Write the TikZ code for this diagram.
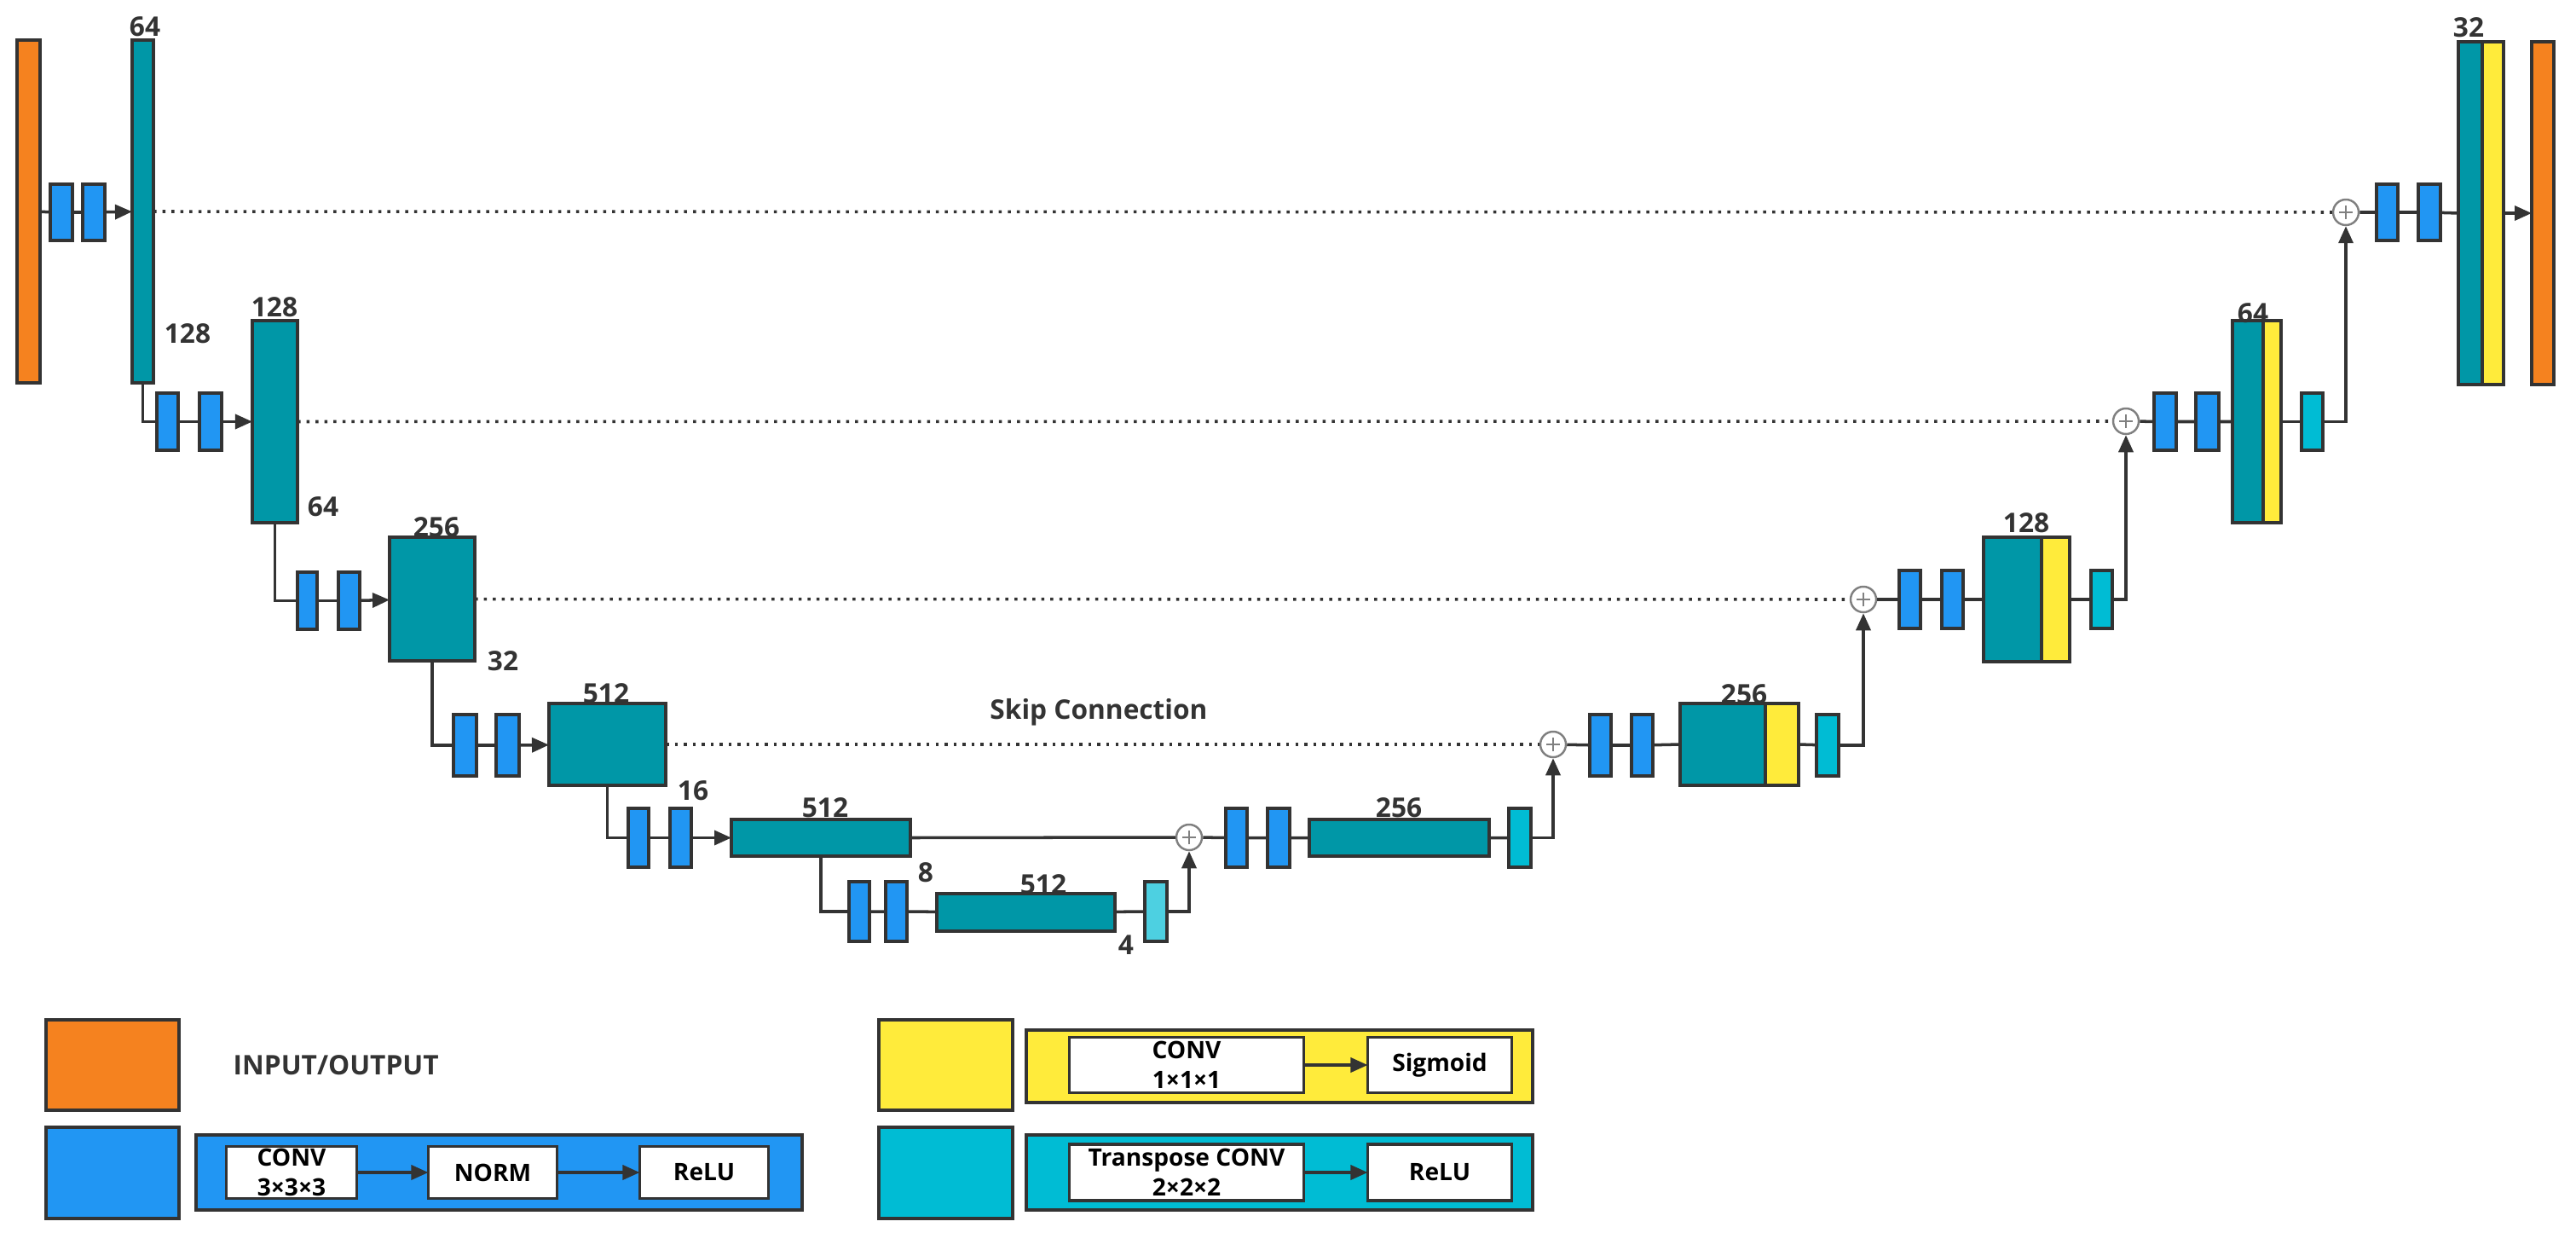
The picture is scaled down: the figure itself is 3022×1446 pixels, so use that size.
\documentclass[tikz,border=0pt]{standalone}
\usepackage{fontspec}
\setmainfont{Open Sans}
\usetikzlibrary{arrows.meta}
\definecolor{cor}{HTML}{F5821F}
\definecolor{cte}{HTML}{0097A7}
\definecolor{cbl}{HTML}{2196F3}
\definecolor{cye}{HTML}{FFEB3B}
\definecolor{ccy}{HTML}{00BCD4}
\definecolor{clc}{HTML}{4DD0E1}
\definecolor{cln}{HTML}{333333}
\newcommand\blk[6]{\node[#6, minimum width={(#4-#2)*0.01cm}, minimum height={(#5-#3)*0.01cm}] (#1) at ({(#2+#4)/2},{(#3+#5)/2}) {};}
\begin{document}
\begin{tikzpicture}[x=0.01cm,y=-0.01cm,
  bx/.style={draw=cln, line width=0.9pt, rectangle, inner sep=0pt, outer sep=0pt},
  inp/.style={bx, fill=cor}, te/.style={bx, fill=cte}, bl/.style={bx, fill=cbl},
  ye/.style={bx, fill=cye}, cy/.style={bx, fill=ccy}, lc/.style={bx, fill=clc},
  wb/.style={bx, fill=white, align=center, font=\fontsize{8}{10}\selectfont\bfseries},
  lab/.style={font=\fontsize{9}{10}\selectfont\bfseries, text=cln, inner sep=0pt},
  con/.style={draw=cln, line width=1pt},
  arr/.style={con, -{Triangle[length=0.2cm,width=0.17cm]}},
  skip/.style={draw=cln, line width=1pt, dotted},
  plus/.style={circle, draw=gray, fill=white, line width=0.7pt, minimum size=0.3cm, inner sep=0pt,
    path picture={\draw[gray,line width=0.6pt] (path picture bounding box.center) ++(-0.08cm,0) -- ++(0.16cm,0)
      (path picture bounding box.center) ++(0,-0.08cm) -- ++(0,0.16cm);}}]
\useasboundingbox (0,0) rectangle (3022,1446);
% encoder
\blk{in}{20}{47}{47}{449}{inp}
\blk{b1a}{59}{216}{85}{282}{bl}
\blk{b1b}{97}{216}{123}{282}{bl}
\blk{t1}{155}{47}{180}{449}{te}
\blk{b2a}{184}{461}{209}{528}{bl}
\blk{b2b}{234}{461}{260}{528}{bl}
\blk{t2}{296}{376}{349}{613}{te}
\blk{b3a}{349}{671}{372}{738}{bl}
\blk{b3b}{397}{671}{422}{738}{bl}
\blk{t3}{457}{630}{557}{775}{te}
\blk{b4a}{532}{838}{559}{910}{bl}
\blk{b4b}{582}{838}{609}{910}{bl}
\blk{t4}{644}{825}{781}{921}{te}
\blk{b5a}{737}{948}{761}{1017}{bl}
\blk{b5b}{786}{948}{811}{1017}{bl}
\blk{t5}{858}{961}{1068}{1004}{te}
\blk{b6a}{996}{1034}{1020}{1104}{bl}
\blk{b6b}{1039}{1034}{1064}{1104}{bl}
\blk{t6}{1099}{1048}{1308}{1092}{te}
\blk{c6}{1343}{1034}{1369}{1104}{lc}
\node[plus] (p5) at (1395,982) {};
% decoder
\blk{b7a}{1438}{948}{1463}{1017}{bl}
\blk{b7b}{1487}{948}{1513}{1017}{bl}
\blk{t7}{1536}{961}{1747}{1004}{te}
\blk{c7}{1770}{948}{1796}{1017}{cy}
\node[plus] (p4) at (1822,873) {};
\blk{b8a}{1865}{838}{1890}{910}{bl}
\blk{b8b}{1914}{838}{1939}{910}{bl}
\blk{t8}{1971}{825}{2071}{921}{te}
\blk{y8}{2071}{825}{2110}{921}{ye}
\blk{c8}{2131}{838}{2157}{910}{cy}
\node[plus] (p3) at (2186,703) {};
\blk{b9a}{2228}{669}{2253}{737}{bl}
\blk{b9b}{2278}{669}{2303}{737}{bl}
\blk{t9}{2327}{630}{2395}{776}{te}
\blk{y9}{2395}{630}{2428}{776}{ye}
\blk{c9}{2453}{669}{2478}{737}{cy}
\node[plus] (p2) at (2494,494) {};
\blk{b10a}{2527}{461}{2553}{528}{bl}
\blk{b10b}{2576}{461}{2603}{528}{bl}
\blk{t10}{2619}{376}{2655}{613}{te}
\blk{y10}{2655}{376}{2676}{613}{ye}
\blk{c10}{2700}{461}{2725}{528}{cy}
\node[plus] (p1) at (2752,249) {};
\blk{b11a}{2788}{216}{2813}{282}{bl}
\blk{b11b}{2837}{216}{2863}{282}{bl}
\blk{t11}{2884}{49}{2912}{451}{te}
\blk{y11}{2912}{49}{2937}{451}{ye}
\blk{out}{2970}{49}{2996}{451}{inp}
% labels
\node[lab] at (170,31) {64};
\node[lab] at (220,391) {128};
\node[lab] at (322,360) {128};
\node[lab] at (379,594) {64};
\node[lab] at (512,618) {256};
\node[lab] at (590,775) {32};
\node[lab] at (711,813) {512};
\node[lab] at (813,927) {16};
\node[lab] at (968,947) {512};
\node[lab] at (1086,1023) {8};
\node[lab] at (1224,1037) {512};
\node[lab] at (1321,1108) {4};
\node[lab] at (1641,947) {256};
\node[lab] at (2046,814) {256};
\node[lab] at (2377,613) {128};
\node[lab] at (2643,367) {64};
\node[lab] at (2896,32) {32};
\node[lab] at (1289,835) {Skip Connection};
% connectors encoder
\draw[con] (in) -- (b1a) -- (b1b); \draw[arr] (b1b) -- (t1);
\draw[con] (t1.south) |- (b2a.west); \draw[con] (b2a) -- (b2b); \draw[arr] (b2b) -- (t2);
\draw[con] (t2.south) |- (b3a.west); \draw[con] (b3a) -- (b3b); \draw[arr] (b3b) -- (t3);
\draw[con] (t3.south) |- (b4a.west); \draw[con] (b4a) -- (b4b); \draw[arr] (b4b) -- (t4);
\draw[con] (t4.south) |- (b5a.west); \draw[con] (b5a) -- (b5b); \draw[arr] (b5b) -- (t5);
\draw[con] (t5.south) |- (b6a.west); \draw[con] (b6a) -- (b6b) -- (t6) -- (c6);
\draw[arr] (c6.east) -| (p5.south);
\draw[con] (t5.east) -- (p5.west);
% decoder
\draw[con] (p5) -- (b7a) -- (b7b) -- (t7) -- (c7); \draw[arr] (c7.east) -| (p4.south);
\draw[con] (p4) -- (b8a) -- (b8b) -- (t8.west); \draw[con] (y8.east) -- (c8); \draw[arr] (c8.east) -| (p3.south);
\draw[con] (p3) -- (b9a) -- (b9b) -- (t9.west); \draw[con] (y9.east) -- (c9); \draw[arr] (c9.east) -| (p2.south);
\draw[con] (p2) -- (b10a) -- (b10b) -- (t10.west); \draw[con] (y10.east) -- (c10); \draw[arr] (c10.east) -| (p1.south);
\draw[con] (p1) -- (b11a) -- (b11b) -- (t11.west); \draw[arr] (y11.east) -- (out.west);
% skips
\draw[skip] (t1.east) -- (p1.west);
\draw[skip] (t2.east) -- (p2.west);
\draw[skip] (t3.east) -- (p3.west);
\draw[skip] (t4.east) -- (p4.west);
% legend
\blk{lo}{54}{1196}{210}{1302}{inp}
\node[lab, anchor=west] at (273,1249) {INPUT/OUTPUT};
\blk{lb}{54}{1322}{210}{1429}{bl}
\blk{lbp}{230}{1331}{941}{1419}{bl}
\node[wb, minimum width=1.53cm, minimum height=0.61cm] (lb1) at (342,1375) {CONV\\3×3×3};
\node[wb, minimum width=1.51cm, minimum height=0.61cm] (lb2) at (578,1375) {NORM};
\node[wb, minimum width=1.51cm, minimum height=0.61cm] (lb3) at (826,1375) {ReLU};
\draw[arr] (lb1) -- (lb2); \draw[arr] (lb2) -- (lb3);
\blk{ly}{1031}{1196}{1188}{1302}{ye}
\blk{lyp}{1204}{1208}{1798}{1293}{ye}
\node[wb, minimum width=2.75cm, minimum height=0.65cm] (ly1) at (1392,1249) {CONV\\1×1×1};
\node[wb, minimum width=1.69cm, minimum height=0.65cm] (ly2) at (1689,1249) {Sigmoid};
\draw[arr] (ly1) -- (ly2);
\blk{lc}{1031}{1322}{1188}{1429}{cy}
\blk{lcp}{1204}{1331}{1798}{1419}{cy}
\node[wb, minimum width=2.75cm, minimum height=0.66cm] (lc1) at (1392,1375) {Transpose CONV\\2×2×2};
\node[wb, minimum width=1.69cm, minimum height=0.66cm] (lc2) at (1689,1375) {ReLU};
\draw[arr] (lc1) -- (lc2);
\end{tikzpicture}
\end{document}
